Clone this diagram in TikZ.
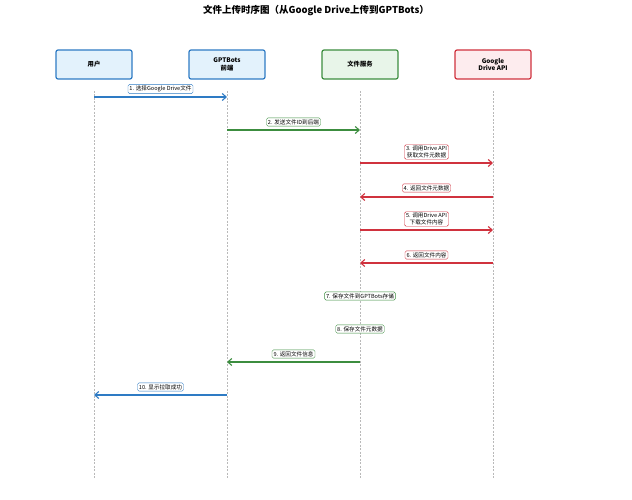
\documentclass[tikz,border=0pt]{standalone}
\usepackage{fontspec}
\setmainfont{Noto Sans CJK SC}
\usetikzlibrary{arrows.meta}
\definecolor{cb}{HTML}{2E7BC4}
\definecolor{cg}{HTML}{3C8D3F}
\definecolor{cr}{HTML}{D0323E}
\definecolor{fb}{HTML}{E3F2FC}
\definecolor{fg}{HTML}{E8F5E9}
\definecolor{fr}{HTML}{FDECEE}
\begin{document}
\begin{tikzpicture}[x=1pt,y=-1pt,
 actor/.style={draw=#1,line width=1.2pt,rounded corners=2pt,minimum width=76pt,minimum height=29pt,align=center,font=\fontsize{6.3}{7.5}\selectfont\bfseries},
 life/.style={draw=gray!55,dash pattern=on 2pt off 1.5pt,line width=0.5pt},
 msg/.style={draw=#1,line width=1.1pt,-{Straight Barb[length=4pt,width=7pt]}},
 lab/.style={draw=#1,fill=white,rounded corners=1.5pt,inner sep=1.5pt,align=center,font=\fontsize{5.6}{6.5}\selectfont}]
\useasboundingbox (0,0) rectangle (632,500);
\node[font=\fontsize{9.5}{11}\selectfont\bfseries] (title) at (316,11) {文件上传时序图（从Google Drive上传到GPTBots）};
\node[actor=cb,fill=fb] (a1) at (94,64.5) {用户};
\node[actor=cb,fill=fb] (a2) at (227,64.5) {GPTBots\\前端};
\node[actor=cg,fill=fg] (a3) at (360,64.5) {文件服务};
\node[actor=cr,fill=fr] (a4) at (493,64.5) {Google\\Drive API};
\foreach \i/\x in {1/94,2/227,3/360,4/493}{
 \coordinate (t\i) at (\x,91); \coordinate (b\i) at (\x,478);
 \draw[life] (t\i) -- (b\i);}
\foreach \n/\y in {1/97,2/130,3/163,4/197,5/230,6/263,9/362,10/395}{
 \foreach \i/\x in {1/94,2/227,3/360,4/493}{\coordinate (p\n\i) at (\x,\y);}}
\draw[msg=cb] (p11) -- (p12);
\node[lab=cb] (l1) at (160.5,89) {1. 选择Google Drive文件};
\draw[msg=cg] (p22) -- (p23);
\node[lab=cg] (l2) at (293.5,122) {2. 发送文件ID到后端};
\draw[msg=cr] (p33) -- (p34);
\node[lab=cr] (l3) at (426.5,152) {3. 调用Drive API\\获取文件元数据};
\draw[msg=cr] (p44) -- (p43);
\node[lab=cr] (l4) at (426.5,188) {4. 返回文件元数据};
\draw[msg=cr] (p53) -- (p54);
\node[lab=cr] (l5) at (426.5,219) {5. 调用Drive API\\下载文件内容};
\draw[msg=cr] (p64) -- (p63);
\node[lab=cr] (l6) at (426.5,255) {6. 返回文件内容};
\node[lab=cg] (l7) at (360,296) {7. 保存文件到GPTBots存储};
\node[lab=cg] (l8) at (360,329) {8. 保存文件元数据};
\draw[msg=cg] (p93) -- (p92);
\node[lab=cg] (l9) at (293.5,354) {9. 返回文件信息};
\draw[msg=cb] (p102) -- (p101);
\node[lab=cb] (l10) at (160.5,387) {10. 显示拉取成功};
\end{tikzpicture}
\end{document}
